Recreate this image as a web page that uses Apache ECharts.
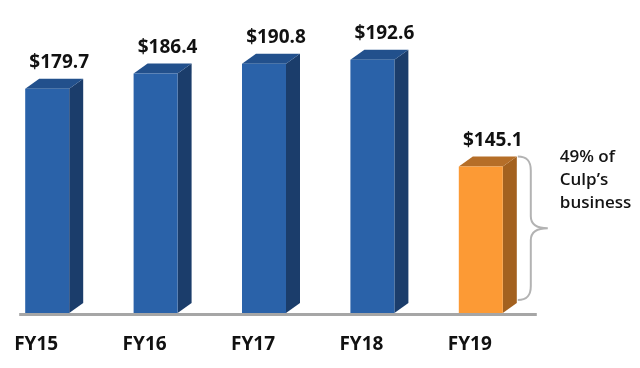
<!DOCTYPE html>
<html>
<head>
<meta charset="utf-8">
<script src="https://cdn.jsdelivr.net/npm/echarts@6/dist/echarts.min.js"></script>
<style>
  html, body { margin: 0; padding: 0; background: #ffffff; }
  #chart { width: 640px; height: 368px; }
</style>
</head>
<body>
<div id="chart"></div>
<script>
// ---- data ----
const categories = ['FY15', 'FY16', 'FY17', 'FY18', 'FY19'];
const salesValues = [179.7, 186.4, 190.8, 192.6, 145.1];
const valuePrefix = '$';
const highlightIndex = 4;
const annotationLines = ['49% of', 'Culp\u2019s', 'business'];
const axisMin = 80;
const axisMax = 200;

// ---- styles ----
const blue = { front: '#2A62A9', side: '#1B3D6B', top: '#22508C' };
const orange = { front: '#FC9A35', side: '#A3611F', top: '#B56E28' };
const FRONT_LEFT = -29, FRONT_RIGHT = 15, DX = 14, DY = 10;

const chart = echarts.init(document.getElementById('chart'), null, { renderer: 'canvas' });

function renderItem(params, api) {
  const idx = api.value(0);
  const val = api.value(1);
  const topPt = api.coord([idx, val]);
  const basePt = api.coord([idx, axisMin]);
  const c = topPt[0];
  const yt = topPt[1];
  const yb = basePt[1];
  const fl = c + FRONT_LEFT, fr = c + FRONT_RIGHT;
  const pal = idx === highlightIndex ? orange : blue;
  const children = [
    { type: 'polygon', shape: { points: [[fr, yb], [fr + DX, yb - DY], [fr + DX, yt - DY], [fr, yt]] },
      style: { fill: pal.side } },
    { type: 'polygon', shape: { points: [[fl, yt], [fl + DX, yt - DY], [fr + DX, yt - DY], [fr, yt]] },
      style: { fill: pal.top } },
    { type: 'rect', shape: { x: fl, y: yt, width: fr - fl, height: yb - yt },
      style: { fill: pal.front } },
    { type: 'text', style: { text: valuePrefix + val.toFixed(1), x: c + 5, y: yt - 26,
      align: 'center', verticalAlign: 'middle', fill: '#111111',
      fontSize: 19, fontWeight: 'bold', fontFamily: '"Open Sans", sans-serif' } }
  ];
  if (idx === highlightIndex) {
    const x0 = fr + DX + 1;
    const t = yt - DY;
    const b = yb - 13;
    const m = (t + b) / 2;
    const v = x0 + 13;
    const tip = x0 + 30;
    const path = 'M' + x0 + ',' + t +
      ' C' + (x0 + 9) + ',' + t + ' ' + v + ',' + (t + 4) + ' ' + v + ',' + (t + 14) +
      ' L' + v + ',' + (m - 12) +
      ' C' + v + ',' + (m - 3) + ' ' + (x0 + 20) + ',' + m + ' ' + tip + ',' + m +
      ' C' + (x0 + 20) + ',' + m + ' ' + v + ',' + (m + 3) + ' ' + v + ',' + (m + 12) +
      ' L' + v + ',' + (b - 14) +
      ' C' + v + ',' + (b - 4) + ' ' + (x0 + 9) + ',' + b + ' ' + x0 + ',' + b;
    children.push({ type: 'path', shape: { pathData: path },
      style: { fill: 'none', stroke: '#B3B3B3', lineWidth: 2 } });
    children.push({ type: 'text', style: { text: annotationLines.join('\n'), x: x0 + 42, y: t - 11,
      align: 'left', verticalAlign: 'top', lineHeight: 23, fill: '#141414',
      fontSize: 17, fontWeight: 600, fontFamily: '"Open Sans", sans-serif' } });
  }
  return { type: 'group', children: children };
}

const option = {
  animation: false,
  backgroundColor: '#ffffff',
  grid: { left: 0, right: 98, top: 43, bottom: 55, containLabel: false },
  xAxis: {
    type: 'category',
    data: categories,
    axisLine: { show: false },
    axisTick: { show: false },
    axisLabel: {
      margin: 22,
      formatter: function (v) { return '{a|' + v + '}'; },
      rich: { a: { fontSize: 19, fontWeight: 'bold', fontFamily: '"Open Sans", sans-serif',
        color: '#111111', padding: [0, 36, 0, 0] } }
    }
  },
  yAxis: {
    type: 'value', min: axisMin, max: axisMax, show: false, splitLine: { show: false }
  },
  series: [{
    type: 'custom',
    renderItem: renderItem,
    clip: false,
    data: categories.map(function (c, i) { return [i, salesValues[i]]; })
  }]
};
chart.setOption(option);

// baseline (axis line) positioned from the scales
const p0 = chart.convertToPixel({ gridIndex: 0 }, [0, axisMin]);
const p1 = chart.convertToPixel({ gridIndex: 0 }, [categories.length - 1, axisMin]);
chart.setOption({
  graphic: [{ type: 'line', z: -1,
    shape: { x1: p0[0] - 35, y1: p0[1] + 1.5, x2: p1[0] + 49, y2: p1[1] + 1.5 },
    style: { stroke: '#A6A6A6', lineWidth: 3 } }]
});
</script>
</body>
</html>
